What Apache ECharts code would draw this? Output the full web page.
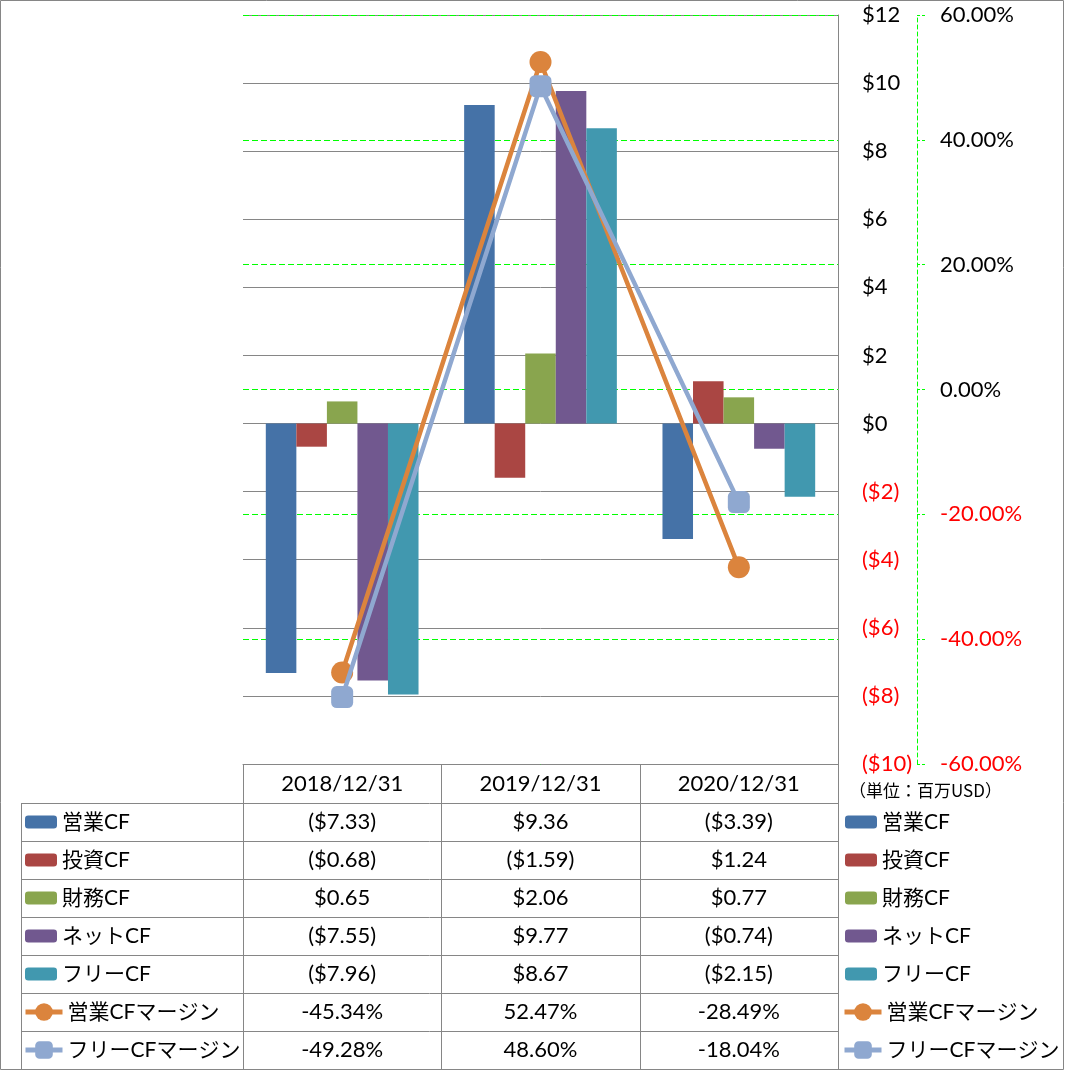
<!DOCTYPE html>
<html><head><meta charset="utf-8">
<script src="https://cdn.jsdelivr.net/npm/echarts@6/dist/echarts.min.js"></script>
<style>html,body{margin:0;padding:0;background:#fff}#c{width:1066px;height:1071px}</style>
</head><body><div id="c"></div>
<script>
// ---- data ----
const categories = ['2018/12/31', '2019/12/31', '2020/12/31'];
const opCF = [-7.33, 9.36, -3.39];
const invCF = [-0.68, -1.59, 1.24];
const finCF = [0.65, 2.06, 0.77];
const netCF = [-7.55, 9.77, -0.74];
const freeCF = [-7.96, 8.67, -2.15];
const opMargin = [-45.34, 52.47, -28.49];
const freeMargin = [-49.28, 48.60, -18.04];
const barNames = ['営業CF', '投資CF', '財務CF', 'ネットCF', 'フリーCF'];
const lineNames = ['営業CFマージン', 'フリーCFマージン'];
const unitLabel = '（単位：百万USD）';
const moneyMin = -10, moneyMax = 12, moneyStep = 2;
const pctMin = -60, pctMax = 60, pctStep = 20;

// ---- styles ----
const barColors = ['#4572A7', '#AA4643', '#89A54E', '#71588F', '#4198AF'];
const lineColors = ['#DB843D', '#8FA8D0'];
const GRAY = '#868686';
const GREEN = '#00ff00';
const NUM_FONT = 'Lato';
const JP_FONT = "Lato, 'Noto Sans CJK JP'";

const barData = [opCF, invCF, finCF, netCF, freeCF];
const lineData = [opMargin, freeMargin];

const fmtMoney = v => v < 0 ? '($' + Math.abs(v).toFixed(2) + ')' : '$' + v.toFixed(2);
const fmtPct = v => v.toFixed(2) + '%';

const chart = echarts.init(document.getElementById('c'), null, {renderer: 'canvas'});

const series = [];
barNames.forEach((n, i) => series.push({
  name: n, type: 'bar', yAxisIndex: 0, data: barData[i],
  barGap: '0%', barCategoryGap: '23%',
  itemStyle: {color: barColors[i]}, z: 2
}));
lineNames.forEach((n, i) => series.push({
  name: n, type: 'line', yAxisIndex: 1, data: lineData[i],
  symbol: i === 0 ? 'circle' : 'roundRect', symbolSize: 22,
  lineStyle: {color: lineColors[i], width: 4.5},
  itemStyle: {color: lineColors[i]}, z: 3 + i
}));

const legendText = {fontSize: 21, lineHeight: 22, fontFamily: JP_FONT, color: '#000'};
const legendBase = {orient: 'vertical', selectedMode: false, padding: 0, textStyle: legendText};
const lineLegend = {itemWidth: 37, itemHeight: 22, itemGap: 16, lineStyle: {width: 5}};

chart.setOption({
  animation: false,
  backgroundColor: '#fff',
  grid: {left: 243, right: 228, top: 15, bottom: 307, containLabel: false},
  xAxis: {
    type: 'category', data: categories, position: 'bottom',
    axisLine: {show: true, onZero: false, lineStyle: {color: GRAY}},
    axisTick: {show: false},
    axisLabel: {margin: 9, fontSize: 22, fontFamily: NUM_FONT, color: '#000'},
    splitLine: {show: false}
  },
  yAxis: [{
    type: 'value', position: 'right', min: moneyMin, max: moneyMax, interval: moneyStep,
    axisLine: {show: true, lineStyle: {color: GRAY}},
    axisTick: {show: false},
    splitLine: {show: true, lineStyle: {color: GRAY, width: 1}},
    axisLabel: {
      margin: 24, fontSize: 22, fontFamily: NUM_FONT,
      color: v => (+v < 0 ? '#ff0000' : '#000'),
      formatter: v => v < 0 ? '($' + (-v) + ')' : '$' + v
    }
  }, {
    type: 'value', position: 'right', offset: 79, min: pctMin, max: pctMax, interval: pctStep,
    axisLine: {show: true, lineStyle: {color: GREEN, type: [4, 3]}},
    axisTick: {show: true, length: 9, lineStyle: {color: GREEN, type: [3, 2]}},
    splitLine: {show: true, lineStyle: {color: GREEN, width: 1, type: [6, 3]}},
    axisLabel: {
      margin: 23, fontSize: 22, fontFamily: NUM_FONT,
      color: v => (+v < 0 ? '#ff0000' : '#000'),
      formatter: v => fmtPct(v)
    }
  }],
  legend: [
    Object.assign({}, legendBase, {data: barNames, left: 25, top: 811, itemWidth: 32, itemHeight: 13, itemGap: 16}),
    Object.assign({}, legendBase, lineLegend, {data: lineNames, left: 23, top: 1001}),
    Object.assign({}, legendBase, {data: barNames, left: 845, top: 811, itemWidth: 32, itemHeight: 13, itemGap: 16}),
    Object.assign({}, legendBase, lineLegend, {data: lineNames, left: 842, top: 1001})
  ],
  series: series
});

// ---- data table built from the arrays ----
const xs = categories.map((c, i) => chart.convertToPixel({xAxisIndex: 0}, i));
const band = xs[1] - xs[0];
const colEdges = [xs[0] - band / 2].concat(xs.map(x => x + band / 2));
const yTop = chart.convertToPixel({yAxisIndex: 0}, moneyMin);
const headerH = 39, rowH = 38, labelLeft = 21;
const rows = barData.map(a => a.map(fmtMoney)).concat(lineData.map(a => a.map(fmtPct)));
const firstRowTop = yTop + headerH;
const p = v => Math.round(v) + 0.5;

const g = [];
// outer border
g.push({type: 'rect', shape: {x: 0.5, y: 0.5, width: 1063, height: 1069}, style: {fill: 'none', stroke: GRAY, lineWidth: 1}, silent: true});
// horizontal rules
for (let i = 0; i <= rows.length; i++) {
  const y = p(firstRowTop + rowH * i);
  g.push({type: 'line', shape: {x1: labelLeft, y1: y, x2: colEdges[3], y2: y}, style: {stroke: GRAY, lineWidth: 1}, silent: true});
}
// vertical rules
const tableBottom = firstRowTop + rowH * rows.length;
g.push({type: 'line', shape: {x1: p(labelLeft), y1: firstRowTop, x2: p(labelLeft), y2: tableBottom}, style: {stroke: GRAY, lineWidth: 1}, silent: true});
colEdges.forEach(x => g.push({type: 'line', shape: {x1: p(x), y1: yTop, x2: p(x), y2: tableBottom}, style: {stroke: GRAY, lineWidth: 1}, silent: true}));
// cell values
rows.forEach((r, ri) => r.forEach((t, ci) => g.push({
  type: 'text', silent: true,
  style: {text: t, x: xs[ci], y: firstRowTop + rowH * ri + rowH / 2, font: '22px ' + NUM_FONT, fill: '#000', align: 'center', verticalAlign: 'middle'}
})));
// unit label
g.push({type: 'text', silent: true, style: {text: unitLabel, x: 849, y: 791, font: "17px 'Noto Sans CJK JP'", fill: '#000', align: 'left', verticalAlign: 'middle'}});

chart.setOption({graphic: g});
</script>
</body></html>
